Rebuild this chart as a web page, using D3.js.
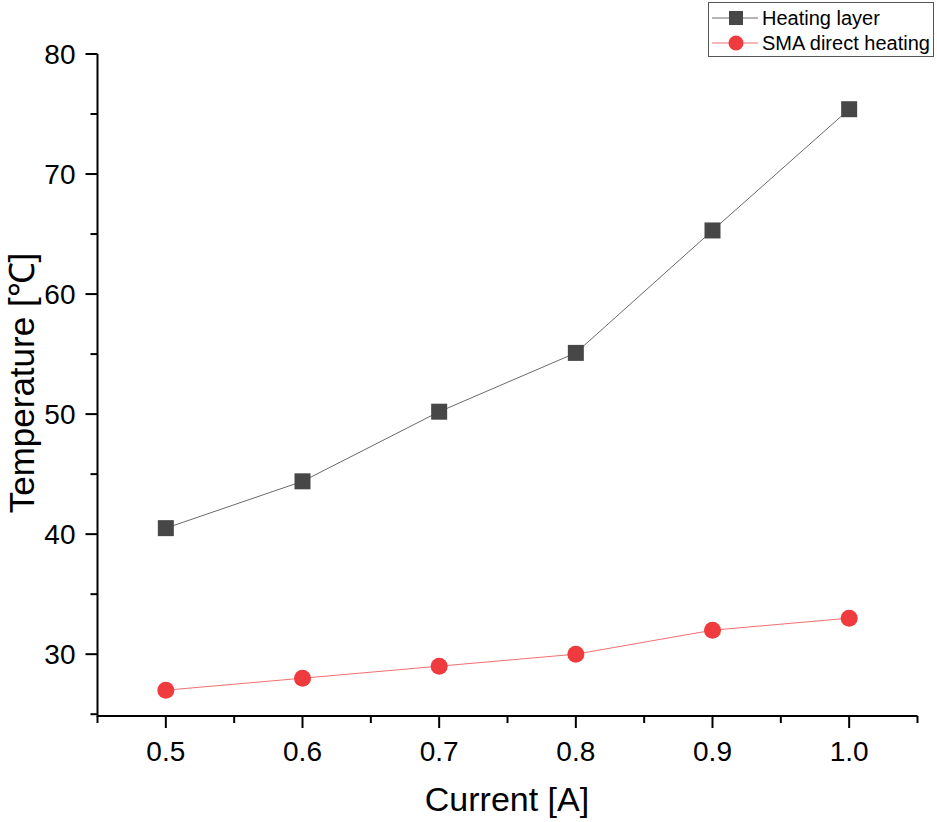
<!DOCTYPE html>
<html><head><meta charset="utf-8">
<script src="https://cdn.jsdelivr.net/npm/d3@7"></script>
<style>body{margin:0;background:#fff}text{font-family:"Liberation Sans",Arial,sans-serif}</style>
</head><body><svg id="c" width="937" height="822"></svg>
<script>
const currents = [0.5, 0.6, 0.7, 0.8, 0.9, 1.0];
const heatingLayer = [40.5, 44.4, 50.2, 55.1, 65.3, 75.4];
const smaDirect = [27.0, 28.0, 29.0, 30.0, 32.0, 33.0];
const xTicks = [0.5, 0.6, 0.7, 0.8, 0.9, 1.0];
const yTicks = [30, 40, 50, 60, 70, 80];
const seriesNames = ["Heating layer", "SMA direct heating"];

const svg = d3.select("#c");
const x = d3.scaleLinear().domain([0.45, 1.05]).range([97.5, 917.5]);
const y = d3.scaleLinear().domain([24.85, 80]).range([716, 54]);

// axes
const xMinor = d3.range(0.45, 1.051, 0.1);
const yMinor = d3.range(25, 80, 10);
const gx = svg.append("g").attr("transform","translate(0,716)");
gx.append("line").attr("x1",x.range()[0]).attr("x2",x.range()[1]).attr("stroke","#000").attr("stroke-width",2);
gx.selectAll(".mj").data(xTicks).join("line").attr("x1",d=>x(d)).attr("x2",d=>x(d)).attr("y1",0).attr("y2",12).attr("stroke","#000").attr("stroke-width",2);
gx.selectAll(".mn").data(xMinor).join("line").attr("x1",d=>x(d)).attr("x2",d=>x(d)).attr("y1",0).attr("y2",7).attr("stroke","#000").attr("stroke-width",2);
gx.selectAll("text").data(xTicks).join("text").attr("x",d=>x(d)).attr("y",45).attr("text-anchor","middle").attr("font-size",28).text(d=>d3.format(".1f")(d));

const gy = svg.append("g").attr("transform","translate(97.5,0)");
gy.append("line").attr("y1",y.range()[0]+1).attr("y2",y.range()[1]).attr("stroke","#000").attr("stroke-width",2);
gy.selectAll(".mj").data(yTicks).join("line").attr("y1",d=>y(d)).attr("y2",d=>y(d)).attr("x1",0).attr("x2",-12).attr("stroke","#000").attr("stroke-width",2);
gy.selectAll(".mn").data(yMinor).join("line").attr("y1",d=>y(d)).attr("y2",d=>y(d)).attr("x1",0).attr("x2",-7).attr("stroke","#000").attr("stroke-width",2);
gy.selectAll("text").data(yTicks).join("text").attr("x",-22).attr("y",d=>y(d)).attr("dy","0.36em").attr("text-anchor","end").attr("font-size",28).text(d=>d);

svg.append("text").attr("x",507).attr("y",811).attr("text-anchor","middle").attr("font-size",34).text("Current [A]");
svg.append("text").attr("transform","translate(34,383) rotate(-90)").attr("text-anchor","middle").attr("font-size",35).text("Temperature [℃]");

const line = d3.line().x(d=>x(d[0])).y(d=>y(d[1]));
const h = currents.map((c,i)=>[c,heatingLayer[i]]);
const s = currents.map((c,i)=>[c,smaDirect[i]]);
svg.append("path").attr("d",line(h)).attr("fill","none").attr("stroke","#6a6a6a").attr("stroke-width",1);
svg.append("path").attr("d",line(s)).attr("fill","none").attr("stroke","#f07070").attr("stroke-width",1);
svg.selectAll(".sq").data(h).join("rect").attr("x",d=>x(d[0])-8).attr("y",d=>y(d[1])-8).attr("width",16).attr("height",16).attr("fill","#474747");
svg.selectAll(".ci").data(s).join("circle").attr("cx",d=>x(d[0])).attr("cy",d=>y(d[1])).attr("r",8.5).attr("fill","#ef3a3e");

// legend
const lg = svg.append("g");
lg.append("rect").attr("x",708.5).attr("y",2.5).attr("width",225).attr("height",54).attr("fill","#fff").attr("stroke","#555").attr("stroke-width",1);
lg.append("line").attr("x1",712).attr("x2",758).attr("y1",18).attr("y2",18).attr("stroke","#6a6a6a");
lg.append("rect").attr("x",729).attr("y",11).attr("width",14).attr("height",14).attr("fill","#474747");
lg.append("line").attr("x1",712).attr("x2",758).attr("y1",43).attr("y2",43).attr("stroke","#f07070");
lg.append("circle").attr("cx",736).attr("cy",43).attr("r",7.5).attr("fill","#ef3a3e");
lg.append("text").attr("x",762).attr("y",18).attr("dy","0.36em").attr("font-size",20).text(seriesNames[0]);
lg.append("text").attr("x",762).attr("y",43).attr("dy","0.36em").attr("font-size",20).text(seriesNames[1]);
</script></body></html>
